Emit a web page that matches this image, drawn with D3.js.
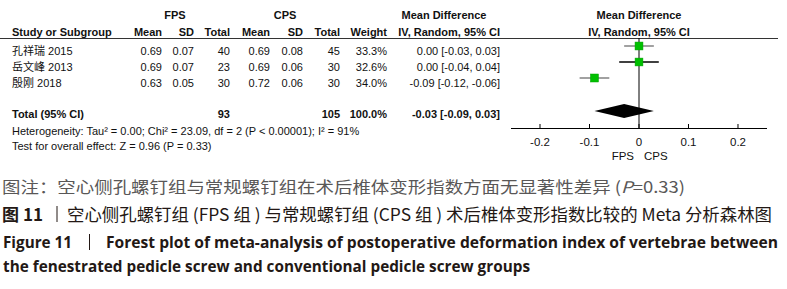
<!DOCTYPE html>
<html><head><meta charset="utf-8">
<script src="https://cdn.jsdelivr.net/npm/d3@7"></script>
<style>
html,body{margin:0;padding:0;background:#fff;}
svg{display:block;}
.t{font-family:"Liberation Sans",Arial,"Noto Sans CJK SC",sans-serif;font-size:11px;fill:#111;}
.b{font-weight:bold;}
</style></head><body>
<script>
// ---- data ----
const studies = ["孔祥瑞 2015", "岳文峰 2013", "殷刚 2018"];
const fpsMean = [0.69, 0.69, 0.63];
const fpsSD = [0.07, 0.07, 0.05];
const fpsTotal = [40, 23, 30];
const cpsMean = [0.69, 0.69, 0.72];
const cpsSD = [0.08, 0.06, 0.06];
const cpsTotal = [45, 30, 30];
const weights = [33.3, 32.6, 34.0];
const md = [0.00, 0.00, -0.09];
const ciLow = [-0.03, -0.04, -0.12];
const ciHigh = [0.03, 0.04, -0.06];
const totalFps = 93, totalCps = 105, totalWeight = 100.0;
const totalMd = -0.03, totalLow = -0.09, totalHigh = 0.03;
const ticks = [-0.2, -0.1, 0, 0.1, 0.2];
const tickLabels = ["-0.2", "-0.1", "0", "0.1", "0.2"];
const hetText = "Heterogeneity: Tau² = 0.00; Chi² = 23.09, df = 2 (P < 0.00001); I² = 91%";
const testText = "Test for overall effect: Z = 0.96 (P = 0.33)";
const leftLabel = "FPS", rightLabel = "CPS";
const ciColors = ["#8a8a8a", "#000", "#8a8a8a"];

const W = 787, H = 289;
const svg = d3.select("body").append("svg").attr("width", W).attr("height", H);
svg.append("rect").attr("width", W).attr("height", H).attr("fill", "#fff");

const x = d3.scaleLinear().domain([-0.2586, 0.2586]).range([511, 767]);
const fmt2 = d3.format(".2f");
const fmtMd = v => (v < 0 ? "-" : "") + fmt2(Math.abs(v));
const txt = (s, xx, yy, anchor, bold) => svg.append("text").attr("class", "t" + (bold ? " b" : ""))
  .attr("x", xx).attr("y", yy).attr("text-anchor", anchor || "start").text(s);

// headers
txt("FPS", 175, 19, "middle", true);
txt("CPS", 285, 19, "middle", true);
txt("Mean Difference", 444, 19, "middle", true);
txt("Mean Difference", x(0), 19, "middle", true);
txt("Study or Subgroup", 12, 35.5, "start", true);
const colR = [162, 194, 230, 270, 303, 340, 387, 500];
["Mean", "SD", "Total", "Mean", "SD", "Total", "Weight", "IV, Random, 95% CI"].forEach((h, i) => txt(h, colR[i], 35.5, "end", true));
txt("IV, Random, 95% CI", x(0), 35.5, "middle", true);
svg.append("line").attr("x1", 0).attr("x2", 778).attr("y1", 38.5).attr("y2", 38.5).attr("stroke", "#333").attr("stroke-width", 1);

// zero line
svg.append("line").attr("x1", x(0)).attr("x2", x(0)).attr("y1", 38).attr("y2", 128.5).attr("stroke", "#000").attr("stroke-width", 1);

// rows
const rowY = i => 46 + 16 * i;
studies.forEach((s, i) => {
  const yb = rowY(i) + 9;
  txt(s, 12, yb);
  const vals = [fmt2(fpsMean[i]), fmt2(fpsSD[i]), fpsTotal[i], fmt2(cpsMean[i]), fmt2(cpsSD[i]), cpsTotal[i],
    d3.format(".1f")(weights[i]) + "%", fmtMd(md[i]) + " [" + fmtMd(ciLow[i]) + ", " + fmtMd(ciHigh[i]) + "]"];
  vals.forEach((v, j) => txt(v, colR[j], yb, "end"));
  svg.append("line").attr("x1", x(ciLow[i])).attr("x2", x(ciHigh[i])).attr("y1", rowY(i)).attr("y2", rowY(i))
    .attr("stroke", ciColors[i]).attr("stroke-width", 1.6);
  const sz = 8 * Math.sqrt(weights[i] / 34);
  svg.append("rect").attr("x", x(md[i]) - sz / 2).attr("y", rowY(i) - sz / 2).attr("width", sz).attr("height", sz)
    .attr("fill", "#00c000").attr("stroke", "#00a000").attr("stroke-width", 0.5);
});

// total
txt("Total (95% CI)", 12, 118, "start", true);
txt(totalFps, colR[2], 118, "end", true);
txt(totalCps, colR[5], 118, "end", true);
txt(d3.format(".1f")(totalWeight) + "%", colR[6], 118, "end", true);
txt(fmtMd(totalMd) + " [" + fmtMd(totalLow) + ", " + fmtMd(totalHigh) + "]", colR[7], 118, "end", true);
const dy = 111;
svg.append("path").attr("d", `M${x(totalLow)},${dy} L${x(totalMd)},${dy - 7} L${x(totalHigh)},${dy} L${x(totalMd)},${dy + 7} Z`).attr("fill", "#000");
txt(hetText, 12, 134.5);
txt(testText, 12, 150);

// axis
const ax = svg.append("g").attr("transform", "translate(0,128.5)");
ax.append("line").attr("x1", x.range()[0]).attr("x2", x.range()[1]).attr("stroke", "#000");
ticks.forEach((t, i) => {
  ax.append("line").attr("x1", x(t)).attr("x2", x(t)).attr("y1", -4.5).attr("y2", 0).attr("stroke", "#000");
  txt(tickLabels[i], x(t), 145.5, "middle").style("font-size", "11.5px");
});
txt(leftLabel, x(0) - 5, 160, "end").style("font-size", "11.5px");
txt(rightLabel, x(0) + 5, 160, "start").style("font-size", "11.5px");

// captions
const cap = (s, xx, yy, len, opts) => {
  const g = svg.append("g").attr("transform", `translate(${xx},${yy}) scale(1,${opts.sy || 1})`);
  const t = g.append("text").attr("x", 0).attr("y", 0)
    .style("font-family", opts.family).style("font-size", opts.size + "px").style("font-weight", opts.weight || 400)
    .attr("fill", opts.color).attr("textLength", len).attr("lengthAdjust", "spacingAndGlyphs");
  return t.text(s);
};
const cjk = "'Noto Sans CJK SC','Noto Sans',sans-serif";
const lat = "'Open Sans','Noto Sans',sans-serif";
// line 1
const l1 = svg.append("text").attr("x", 2).attr("y", 193).style("font-family", cjk).style("font-size", "16px")
  .attr("fill", "#595757").attr("textLength", 683).attr("lengthAdjust", "spacingAndGlyphs");
l1.append("tspan").text("图注：空心侧孔螺钉组与常规螺钉组在术后椎体变形指数方面无显著性差异 (");
l1.append("tspan").style("font-style", "italic").text("P");
l1.append("tspan").text("=0.33)");
// line 2
cap("图 11", 2, 221, 41, {family: cjk, size: 17, weight: 700, color: "#231815"});
svg.append("line").attr("x1", 57).attr("x2", 57).attr("y1", 206).attr("y2", 222).attr("stroke", "#231815").attr("stroke-width", 1);
cap("空心侧孔螺钉组 (FPS 组 ) 与常规螺钉组 (CPS 组 ) 术后椎体变形指数比较的 Meta 分析森林图", 67, 221, 705, {family: cjk, size: 17, color: "#231815"});
// line 3
cap("Figure 11", 3, 248, 69, {family: lat, size: 13.5, weight: 700, color: "#231815", sy: 1.18});
svg.append("line").attr("x1", 89.5).attr("x2", 89.5).attr("y1", 234).attr("y2", 250).attr("stroke", "#231815").attr("stroke-width", 1);
cap("Forest plot of meta-analysis of postoperative deformation index of vertebrae between", 106, 248, 672, {family: lat, size: 13.5, weight: 700, color: "#231815", sy: 1.18});
// line 4
cap("the fenestrated pedicle screw and conventional pedicle screw groups", 3, 272, 527, {family: lat, size: 13.5, weight: 700, color: "#231815", sy: 1.18});
</script>
</body></html>
